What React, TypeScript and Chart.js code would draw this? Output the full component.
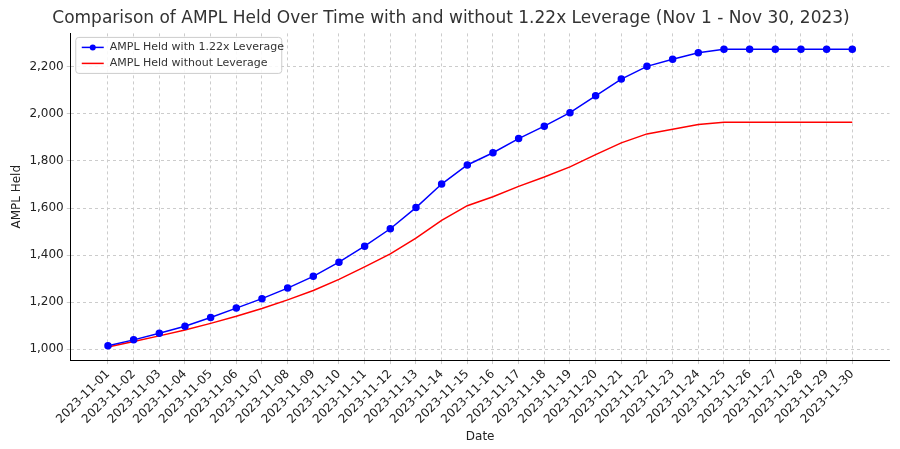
import React, { useEffect, useRef } from "react";
import { Chart, registerables } from "chart.js";
Chart.register(...registerables);

const dates = Array.from({ length: 30 }, (_, i) => `2023-11-${String(i + 1).padStart(2, "0")}`);
const leveraged = [1015, 1040, 1068, 1098, 1135, 1175, 1215, 1260, 1310, 1370, 1438, 1512, 1602, 1702, 1783, 1835, 1895, 1948, 2005, 2077, 2148, 2202, 2232, 2260, 2275, 2275, 2275, 2275, 2275, 2275];
const unleveraged = [1010, 1033, 1057, 1082, 1110, 1140, 1173, 1210, 1250, 1297, 1350, 1405, 1472, 1548, 1610, 1648, 1692, 1732, 1775, 1827, 1877, 1915, 1935, 1955, 1965, 1965, 1965, 1965, 1965, 1965];

const legendPlugin = {
  id: "inLegend",
  afterDraw(chart: any) {
    const { ctx, chartArea } = chart;
    const x = chartArea.left + 5, y = chartArea.top + 4;
    ctx.save();
    ctx.fillStyle = "rgba(255,255,255,0.85)";
    ctx.strokeStyle = "#ccc";
    ctx.lineWidth = 1;
    ctx.beginPath();
    ctx.roundRect(x, y, 206, 36, 3);
    ctx.fill(); ctx.stroke();
    const items = [["AMPL Held with 1.22x Leverage", "blue", true], ["AMPL Held without Leverage", "red", false]];
    ctx.font = "11px 'DejaVu Sans'";
    ctx.textBaseline = "middle";
    items.forEach(([t, c, m]: any, i) => {
      const yy = y + 10 + i * 16;
      ctx.strokeStyle = c; ctx.lineWidth = 1.5;
      ctx.beginPath(); ctx.moveTo(x + 6, yy); ctx.lineTo(x + 28, yy); ctx.stroke();
      if (m) { ctx.fillStyle = c; ctx.beginPath(); ctx.arc(x + 17, yy, 3, 0, Math.PI * 2); ctx.fill(); }
      ctx.fillStyle = "#333";
      ctx.fillText(t, x + 34, yy);
    });
    ctx.restore();
  },
};

export default function App() {
  const ref = useRef<HTMLCanvasElement>(null);
  useEffect(() => {
    const mk = (arr: number[]) => arr.map((v, i) => ({ x: i, y: v }));
    const chart = new Chart(ref.current!, {
      type: "line",
      data: {
        datasets: [
          { label: "AMPL Held with 1.22x Leverage", data: mk(leveraged), borderColor: "blue", backgroundColor: "blue", borderWidth: 1.5, pointRadius: 3, pointHoverRadius: 3 },
          { label: "AMPL Held without Leverage", data: mk(unleveraged), borderColor: "red", backgroundColor: "red", borderWidth: 1.5, pointRadius: 0 },
        ],
      },
      options: {
        animation: false,
        responsive: false,
        layout: { padding: { left: 0, right: 0, top: 0, bottom: 0 } },
        plugins: {
          legend: { display: false },
          title: { display: true, text: "Comparison of AMPL Held Over Time with and without 1.22x Leverage (Nov 1 - Nov 30, 2023)", color: "#333", font: { family: "DejaVu Sans", size: 17, weight: "normal" }, padding: { top: 0, bottom: 5 } },
          tooltip: { enabled: false },
        },
        scales: {
          x: {
            type: "linear",
            min: -1.45, max: 30.45,
            grid: { color: "#ccc", tickLength: 4, drawTicks: true },
            border: { color: "#000", dash: [3, 3] },
            afterBuildTicks: (ax: any) => { ax.ticks = dates.map((_, i) => ({ value: i })); },
            ticks: { color: "#222", maxRotation: 45, minRotation: 45, autoSkip: false, callback: (v: any) => dates[v] ?? "", font: { family: "DejaVu Sans", size: 12 } },
            title: { display: true, text: "Date", color: "#222", font: { family: "DejaVu Sans", size: 12 }, padding: 0 },
          },
          y: {
            min: 954, max: 2342,
            grid: { color: "#ccc", tickLength: 4 },
            border: { color: "#000", dash: [3, 3] },
            ticks: { color: "#222", font: { family: "DejaVu Sans", size: 12 } },
            afterBuildTicks: (ax: any) => { ax.ticks = [1000, 1200, 1400, 1600, 1800, 2000, 2200].map((v) => ({ value: v })); },
            title: { display: true, text: "AMPL Held", color: "#222", font: { family: "DejaVu Sans", size: 12 }, padding: 2 },
          },
        },
      },
      plugins: [legendPlugin],
    } as any);
    return () => chart.destroy();
  }, []);
  return <canvas ref={ref} width={886} height={436} style={{ display: "block" }} />;
}
